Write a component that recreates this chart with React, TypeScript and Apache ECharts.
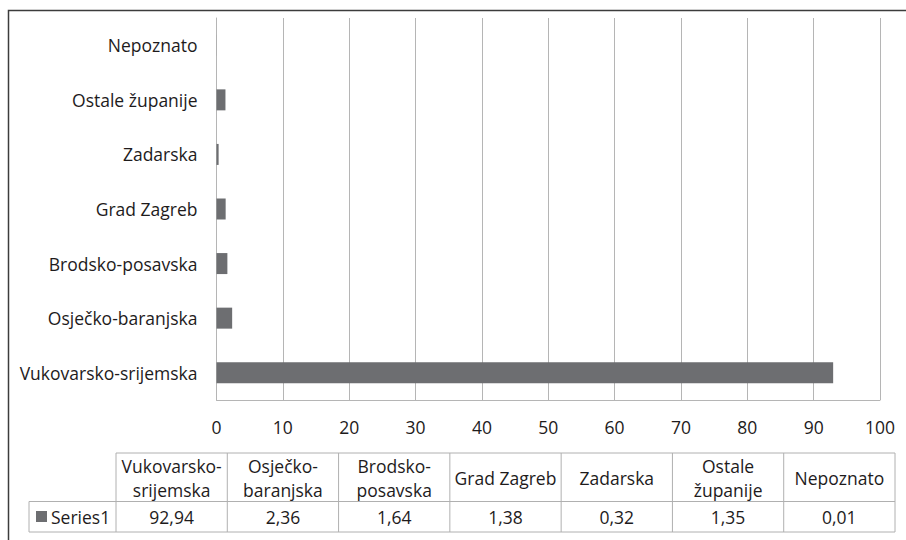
import React, { useEffect, useRef } from "react";
import * as echarts from "echarts";

const categories = [
  "Vukovarsko-srijemska",
  "Osječko-baranjska",
  "Brodsko-posavska",
  "Grad Zagreb",
  "Zadarska",
  "Ostale županije",
  "Nepoznato",
];
const tableHeaders = [
  "Vukovarsko-\nsrijemska",
  "Osječko-\nbaranjska",
  "Brodsko-\nposavska",
  "Grad Zagreb",
  "Zadarska",
  "Ostale\nžupanije",
  "Nepoznato",
];
const seriesName = "Series1";
const values = [92.94, 2.36, 1.64, 1.38, 0.32, 1.35, 0.01];
const xTicks = { min: 0, max: 100, interval: 10 };

const FONT = "'Open Sans', 'Noto Sans', sans-serif";
const TEXT = "#1e1b1c";
const BAR = "#6d6e71";
const GRID = "#b5b5b5";
const TABLE_LINE = "#b0b0b0";

export default function App() {
  const ref = useRef<HTMLDivElement>(null);
  useEffect(() => {
    if (!ref.current) return;
    const chart = echarts.init(ref.current, null, { renderer: "svg" });

    const fs = 17.5;
    const lh = 24;
    const tLeft = 29;
    const c0 = 116;
    const tRight = 895;
    const colW = (tRight - c0) / categories.length;
    const top = 453;
    const mid = 501.5;
    const bot = 532;

    const graphics: any[] = [];
    graphics.push({
      type: "polyline",
      shape: { points: [[8.5, 545], [8.5, 10.5], [910, 10.5]] },
      style: { stroke: "#3c3c3c", lineWidth: 1.5, fill: "none" },
      silent: true,
    });
    const lines: number[][][] = [];
    lines.push([[c0, top], [tRight, top]]);
    lines.push([[tLeft, mid], [tRight, mid]]);
    lines.push([[tLeft, bot], [tRight, bot]]);
    lines.push([[tLeft, mid], [tLeft, bot]]);
    for (let i = 0; i <= categories.length; i++) {
      const x = c0 + i * colW;
      lines.push([[x, top], [x, bot]]);
    }
    lines.forEach((l) =>
      graphics.push({
        type: "line",
        shape: { x1: l[0][0], y1: l[0][1], x2: l[1][0], y2: l[1][1] },
        style: { stroke: TABLE_LINE, lineWidth: 1 },
        silent: true,
      })
    );
    tableHeaders.forEach((h, i) => {
      const parts = h.split("\n");
      const cy = (top + mid) / 2 + 0.5;
      parts.forEach((p, k) => {
        graphics.push({
          type: "text",
          x: c0 + (i + 0.5) * colW,
          y: cy + (k - (parts.length - 1) / 2) * lh,
          style: {
            text: p,
            fill: TEXT,
            font: `${fs}px ${FONT}`,
            align: "center",
            verticalAlign: "middle",
          },
          silent: true,
        });
      });
    });
    values.forEach((v, i) => {
      graphics.push({
        type: "text",
        x: c0 + (i + 0.5) * colW,
        y: (mid + bot) / 2,
        style: {
          text: v.toFixed(2).replace(".", ","),
          fill: TEXT,
          font: `${fs}px ${FONT}`,
          align: "center",
          verticalAlign: "middle",
        },
        silent: true,
      });
    });
    graphics.push({
      type: "rect",
      shape: { x: 36, y: 511, width: 11, height: 11 },
      style: { fill: BAR },
      silent: true,
    });
    graphics.push({
      type: "text",
      x: 51,
      y: (mid + bot) / 2,
      style: {
        text: seriesName,
        fill: TEXT,
        font: `${fs}px ${FONT}`,
        align: "left",
        verticalAlign: "middle",
      },
      silent: true,
    });

    chart.setOption({
      animation: false,
      backgroundColor: "#ffffff",
      grid: { left: 216.5, right: 26, top: 18, bottom: 140, containLabel: false },
      xAxis: {
        type: "value",
        min: xTicks.min,
        max: xTicks.max,
        interval: xTicks.interval,
        axisLine: { show: true, lineStyle: { color: GRID, width: 1 } },
        axisTick: { show: false },
        axisLabel: {
          color: TEXT,
          fontFamily: FONT,
          fontSize: fs,
          margin: 18,
        },
        splitLine: { show: true, lineStyle: { color: GRID, width: 1 } },
      },
      yAxis: {
        type: "category",
        data: categories,
        axisLine: { show: true, lineStyle: { color: GRID, width: 1 } },
        axisTick: { show: false },
        axisLabel: {
          color: TEXT,
          fontFamily: FONT,
          fontSize: fs,
          margin: 19,
        },
        splitLine: { show: false },
      },
      series: [
        {
          name: seriesName,
          type: "bar",
          data: values,
          barWidth: 21,
          itemStyle: { color: BAR },
        },
      ],
      graphic: graphics,
    });
    return () => chart.dispose();
  }, []);
  return (
    <div
      ref={ref}
      style={{ position: "fixed", left: 0, top: 0, width: 906, height: 540, background: "#fff" }}
    />
  );
}
